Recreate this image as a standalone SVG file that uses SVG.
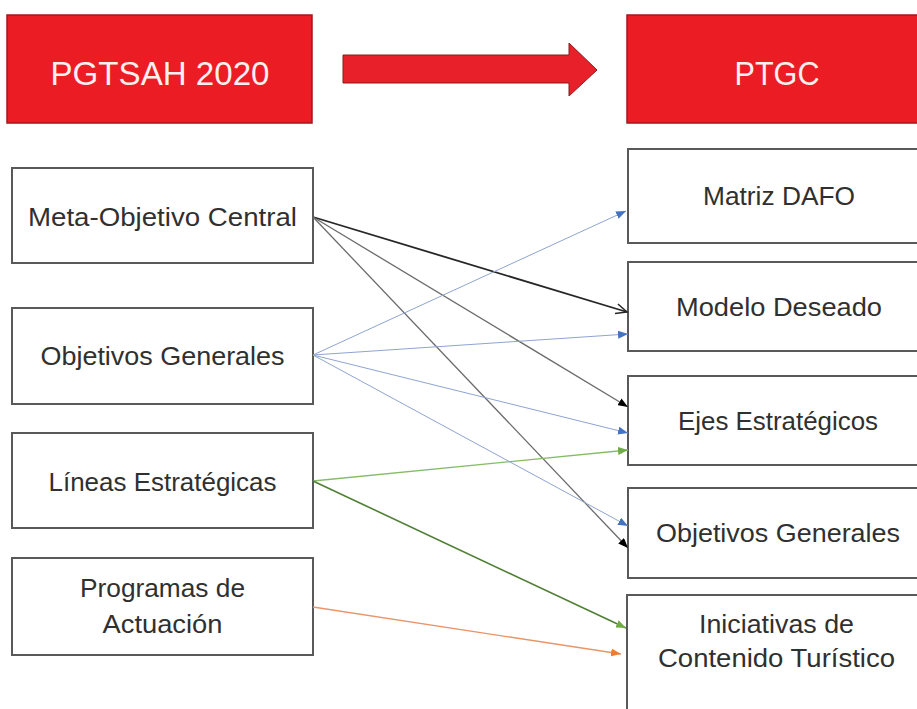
<svg xmlns="http://www.w3.org/2000/svg" width="917" height="709" viewBox="0 0 917 709">
<style>
.hdr{fill:#EC1C24;stroke:#A5161B;stroke-width:1.5}
.hdrt{font-family:"Liberation Sans",Arial,sans-serif;font-size:33px;fill:#FCEFEF;text-anchor:middle}
.box{fill:#FFFFFF;stroke:#595959;stroke-width:2}
.t{font-family:"Liberation Sans",Arial,sans-serif;font-size:26px;fill:#303030;text-anchor:middle}
.c{fill:none}
</style>
<defs>
<marker id="triBlue" markerUnits="userSpaceOnUse" markerWidth="10" markerHeight="8" refX="10" refY="4" orient="auto"><path d="M0,0 L10,4 L0,8 z" fill="#4472C4"/></marker>
<marker id="triBlack" markerUnits="userSpaceOnUse" markerWidth="10" markerHeight="8" refX="10" refY="4" orient="auto"><path d="M0,0 L10,4 L0,8 z" fill="#000000"/></marker>
<marker id="triGreen" markerUnits="userSpaceOnUse" markerWidth="10" markerHeight="8" refX="10" refY="4" orient="auto"><path d="M0,0 L10,4 L0,8 z" fill="#70AD47"/></marker>
<marker id="triOrange" markerUnits="userSpaceOnUse" markerWidth="10" markerHeight="8" refX="10" refY="4" orient="auto"><path d="M0,0 L10,4 L0,8 z" fill="#ED7D31"/></marker>
<marker id="openV" markerUnits="userSpaceOnUse" markerWidth="14" markerHeight="12" refX="12" refY="6" orient="auto"><path d="M1,1 L12,6 L1,11" fill="none" stroke="#262626" stroke-width="1.5"/></marker>
</defs>

<g id="pgtsah">
<rect class="hdr" x="7" y="15" width="305" height="108"/>
<text class="hdrt" x="160" y="85" textLength="219" lengthAdjust="spacingAndGlyphs">PGTSAH 2020</text>
</g>
<g id="big-arrow">
<path d="M343,55 L569,55 L569,43 L597,70 L569,96 L569,83 L343,83 Z" fill="#E8202A" stroke="#8B1A1A" stroke-width="1"/>
</g>
<g id="ptgc">
<rect class="hdr" x="627" y="15" width="300" height="108"/>
<text class="hdrt" x="777" y="85" textLength="85" lengthAdjust="spacingAndGlyphs">PTGC</text>
</g>

<g id="meta-objetivo">
<rect class="box" x="12" y="168" width="301" height="95"/>
<text class="t" x="162.5" y="226" textLength="269" lengthAdjust="spacingAndGlyphs">Meta-Objetivo Central</text>
</g>
<g id="objetivos-generales-l">
<rect class="box" x="12" y="308" width="301" height="96"/>
<text class="t" x="162.5" y="365" textLength="244" lengthAdjust="spacingAndGlyphs">Objetivos Generales</text>
</g>
<g id="lineas">
<rect class="box" x="12" y="433" width="301" height="95"/>
<text class="t" x="162.5" y="491" textLength="228" lengthAdjust="spacingAndGlyphs">Líneas Estratégicas</text>
</g>
<g id="programas">
<rect class="box" x="12" y="558" width="301" height="97"/>
<text class="t" x="162.5" y="597" textLength="165" lengthAdjust="spacingAndGlyphs">Programas de</text>
<text class="t" x="162.5" y="633" textLength="120" lengthAdjust="spacingAndGlyphs">Actuación</text>
</g>

<g id="matriz-dafo">
<rect class="box" x="628" y="149" width="300" height="94"/>
<text class="t" x="779" y="205" textLength="152" lengthAdjust="spacingAndGlyphs">Matriz DAFO</text>
</g>
<g id="modelo-deseado">
<rect class="box" x="628" y="262" width="300" height="89"/>
<text class="t" x="779" y="316" textLength="206" lengthAdjust="spacingAndGlyphs">Modelo Deseado</text>
</g>
<g id="ejes">
<rect class="box" x="628" y="376" width="300" height="89"/>
<text class="t" x="778" y="430" textLength="200" lengthAdjust="spacingAndGlyphs">Ejes Estratégicos</text>
</g>
<g id="objetivos-generales-r">
<rect class="box" x="628" y="488" width="300" height="90"/>
<text class="t" x="778" y="542" textLength="244" lengthAdjust="spacingAndGlyphs">Objetivos Generales</text>
</g>
<g id="iniciativas">
<rect class="box" x="627" y="595" width="300" height="130"/>
<text class="t" x="776.5" y="633" textLength="155" lengthAdjust="spacingAndGlyphs">Iniciativas de</text>
<text class="t" x="776.5" y="667" textLength="237" lengthAdjust="spacingAndGlyphs">Contenido Turístico</text>
</g>

<g id="connectors">
<path class="c" d="M313,217 L627,312" stroke="#262626" stroke-width="1.8" marker-end="url(#openV)"/>
<path class="c" d="M313,217 L628,407" stroke="#6B6B6B" stroke-width="1.3" marker-end="url(#triBlack)"/>
<path class="c" d="M313,217 L628,548" stroke="#6B6B6B" stroke-width="1.3" marker-end="url(#triBlack)"/>
<path class="c" d="M313,355 L626,211" stroke="#8EA4CF" stroke-width="1" marker-end="url(#triBlue)"/>
<path class="c" d="M313,355 L628,334" stroke="#8EA4CF" stroke-width="1" marker-end="url(#triBlue)"/>
<path class="c" d="M313,355 L628,433" stroke="#8EA4CF" stroke-width="1" marker-end="url(#triBlue)"/>
<path class="c" d="M313,355 L628,526" stroke="#8EA4CF" stroke-width="1" marker-end="url(#triBlue)"/>
<path class="c" d="M313,481 L628,450" stroke="#86BC68" stroke-width="1.3" marker-end="url(#triGreen)"/>
<path class="c" d="M313,481 L626,628" stroke="#4F7F34" stroke-width="1.6" marker-end="url(#triGreen)"/>
<path class="c" d="M313,607 L621,654" stroke="#E8956A" stroke-width="1.3" marker-end="url(#triOrange)"/>
</g>
</svg>
